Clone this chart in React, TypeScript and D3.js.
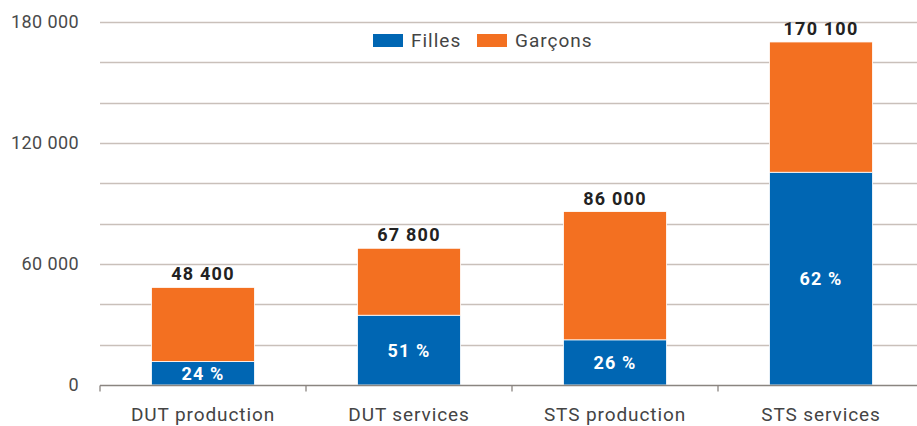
import React, { useRef, useEffect } from 'react';
import * as d3 from 'd3';

// data
const categories = ['DUT production', 'DUT services', 'STS production', 'STS services'];
const filles = [11600, 34600, 22400, 105500];
const garcons = [36800, 33200, 63600, 64600];
const yTicks = [0, 60000, 120000, 180000];
const gridValues = [20000, 40000, 60000, 80000, 100000, 120000, 140000, 160000, 180000];

const BLUE = '#0066b3';
const ORANGE = '#f37021';
const FONT = 'Roboto, "DejaVu Sans", sans-serif';

export default function App() {
  const ref = useRef<SVGSVGElement>(null);

  useEffect(() => {
    document.body.style.margin = '0';
    const width = 917;
    const height = 426;
    const margin = { top: 22, right: 0, bottom: 41, left: 100 };
    const svg = d3.select(ref.current);
    svg.selectAll('*').remove();

    const fmt = d3.formatLocale({ decimal: ',', thousands: '\u00a0', grouping: [3], currency: ['', ' €'] }).format(',d');

    // the last band runs a little past the right edge of the picture
    const bandRange: [number, number] = [margin.left, 924];
    const x = d3.scaleBand<string>()
      .domain(categories)
      .range(bandRange)
      .paddingInner(0.5)
      .paddingOuter(0.25);
    const band = d3.scaleBand<string>().domain(categories).range(bandRange);

    const y = d3.scaleLinear().domain([0, 180000]).range([height - margin.bottom, margin.top]);

    // gridlines
    svg.append('g')
      .selectAll('line')
      .data(gridValues)
      .join('line')
      .attr('x1', margin.left)
      .attr('x2', width - margin.right)
      .attr('y1', d => Math.round(y(d)) + 0.5)
      .attr('y2', d => Math.round(y(d)) + 0.5)
      .attr('stroke', '#c9c0ba')
      .attr('stroke-width', 1.3);

    // y tick labels
    svg.append('g')
      .selectAll('text')
      .data(yTicks)
      .join('text')
      .attr('x', 79)
      .attr('y', d => y(d))
      .attr('dy', '0.35em')
      .attr('text-anchor', 'end')
      .attr('font-family', FONT)
      .attr('font-size', 18)
      .attr('letter-spacing', 0.4)
      .attr('fill', '#4a4a4a')
      .text(d => fmt(d));

    const stackData = categories.map((c, i) => ({ cat: c, filles: filles[i], garcons: garcons[i] }));
    const stack = d3.stack<any>().keys(['filles', 'garcons'])(stackData);
    const colors: Record<string, string> = { filles: BLUE, garcons: ORANGE };

    svg.append('g')
      .selectAll('g')
      .data(stack)
      .join('g')
      .attr('fill', s => colors[s.key])
      .selectAll('rect')
      .data(s => s)
      .join('rect')
      .attr('x', d => x(d.data.cat)!)
      .attr('width', x.bandwidth())
      .attr('y', d => y(d[1]))
      .attr('height', d => y(d[0]) - y(d[1]))
      .attr('stroke', '#ffffff')
      .attr('stroke-width', 0.8);

    // x axis line and ticks
    const axisY = Math.round(y(0)) + 0.5;
    svg.append('line')
      .attr('x1', margin.left)
      .attr('x2', width - margin.right)
      .attr('y1', axisY)
      .attr('y2', axisY)
      .attr('stroke', '#8a8580')
      .attr('stroke-width', 1.3);
    svg.append('g')
      .selectAll('line')
      .data(categories)
      .join('line')
      .attr('x1', d => band(d)!)
      .attr('x2', d => band(d)!)
      .attr('y1', axisY)
      .attr('y2', axisY + 6)
      .attr('stroke', '#8a8580')
      .attr('stroke-width', 1.3);

    // category labels
    svg.append('g')
      .selectAll('text')
      .data(categories)
      .join('text')
      .attr('x', d => x(d)! + x.bandwidth() / 2)
      .attr('y', 421)
      .attr('text-anchor', 'middle')
      .attr('font-family', FONT)
      .attr('font-size', 19)
      .attr('letter-spacing', 0.9)
      .attr('fill', '#444')
      .text(d => d);

    // totals
    svg.append('g')
      .selectAll('text')
      .data(stackData)
      .join('text')
      .attr('x', d => x(d.cat)! + x.bandwidth() / 2)
      .attr('y', d => y(d.filles + d.garcons) - 7)
      .attr('text-anchor', 'middle')
      .attr('font-family', FONT)
      .attr('font-weight', 'bold')
      .attr('font-size', 18)
      .attr('letter-spacing', 1.2)
      .attr('fill', '#222')
      .text(d => fmt(d.filles + d.garcons));

    // percentages of girls
    svg.append('g')
      .selectAll('text')
      .data(stackData)
      .join('text')
      .attr('x', d => x(d.cat)! + x.bandwidth() / 2)
      .attr('y', d => (y(0) + y(d.filles)) / 2)
      .attr('dy', '0.36em')
      .attr('text-anchor', 'middle')
      .attr('font-family', FONT)
      .attr('font-weight', 'bold')
      .attr('font-size', 18)
      .attr('letter-spacing', 1.2)
      .attr('fill', '#fff')
      .text(d => `${Math.round((d.filles / (d.filles + d.garcons)) * 100)}\u00a0%`);

    // legend
    const legend = svg.append('g');
    const items = [
      { label: 'Filles', color: BLUE, x: 373 },
      { label: 'Garçons', color: ORANGE, x: 477 },
    ];
    items.forEach(it => {
      legend.append('rect')
        .attr('x', it.x)
        .attr('y', 34)
        .attr('width', 30)
        .attr('height', 13)
        .attr('fill', it.color);
      legend.append('text')
        .attr('x', it.x + 38)
        .attr('y', 40.5)
        .attr('dy', '0.35em')
        .attr('font-family', FONT)
        .attr('font-size', 19)
        .attr('letter-spacing', 1)
        .attr('fill', '#444')
        .text(it.label);
    });
  }, []);

  return <svg ref={ref} width={917} height={426} style={{ display: 'block' }} />;
}
